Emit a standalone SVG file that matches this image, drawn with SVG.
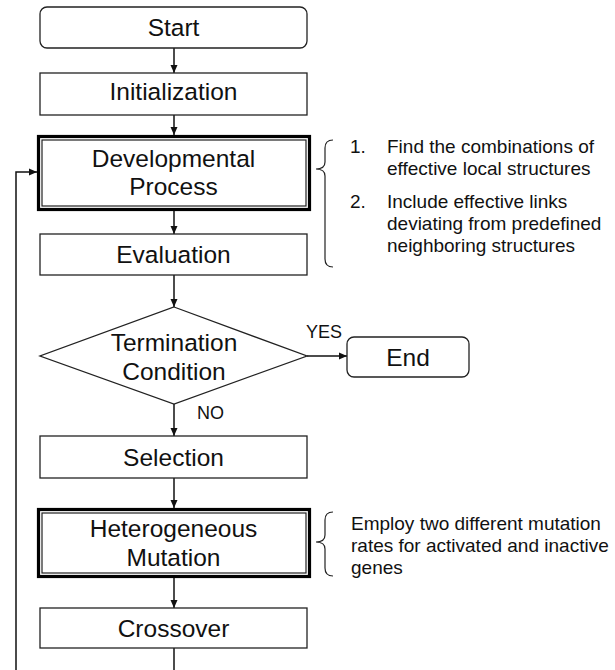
<svg xmlns="http://www.w3.org/2000/svg" width="615" height="670" viewBox="0 0 615 670">
<style>
  .box { fill: #fff; stroke: #222; stroke-width: 1.3; }
  .thick { fill: #fff; stroke: #000; stroke-width: 3.2; }
  .thin { fill: none; stroke: #222; stroke-width: 1.2; }
  .lbl { font-family: "Liberation Sans", Arial, sans-serif; font-size: 24.5px; fill: #111; text-anchor: middle; }
  .yn { font-family: "Liberation Sans", Arial, sans-serif; font-size: 18px; fill: #111; }
  .note { font-family: "Liberation Sans", Arial, sans-serif; font-size: 19px; fill: #111; }
  .conn { fill: none; stroke: #111; stroke-width: 1.5; }
  .brace { fill: none; stroke: #222; stroke-width: 1.2; }
</style>
<defs>
  <marker id="arr" markerWidth="8" markerHeight="8" refX="8" refY="4" orient="auto" markerUnits="userSpaceOnUse">
    <path d="M0,0.5 L8,4 L0,7.5 Z" fill="#111"/>
  </marker>
</defs>
<rect width="615" height="670" fill="#fff"/>

<g id="connectors">
  <line class="conn" x1="174" y1="48" x2="174" y2="73" marker-end="url(#arr)"/>
  <line class="conn" x1="174" y1="115" x2="174" y2="135" marker-end="url(#arr)"/>
  <line class="conn" x1="174" y1="211" x2="174" y2="234" marker-end="url(#arr)"/>
  <line class="conn" x1="174" y1="275" x2="174" y2="307" marker-end="url(#arr)"/>
  <line class="conn" x1="174" y1="404" x2="174" y2="436" marker-end="url(#arr)"/>
  <line class="conn" x1="174" y1="478" x2="174" y2="508" marker-end="url(#arr)"/>
  <line class="conn" x1="174" y1="578" x2="174" y2="608" marker-end="url(#arr)"/>
  <line class="conn" x1="174" y1="648" x2="174" y2="670"/>
  <polyline class="conn" points="16,670 16,172 37,172" marker-end="url(#arr)"/>
  <line class="conn" x1="307" y1="356" x2="347" y2="356" marker-end="url(#arr)"/>
  <text class="yn" x="306" y="338">YES</text>
  <text class="yn" x="197" y="419">NO</text>
</g>

<g id="start">
  <rect class="box" x="40" y="7" width="267" height="41" rx="7"/>
  <text class="lbl" x="173.5" y="36">Start</text>
</g>
<g id="initialization">
  <rect class="box" x="40" y="73" width="267" height="42"/>
  <text class="lbl" x="173.5" y="100">Initialization</text>
</g>
<g id="developmental">
  <rect class="thick" x="38.5" y="136.5" width="271" height="73"/>
  <rect class="thin" x="42" y="140" width="264" height="66"/>
  <text class="lbl" x="173.5" y="167">Developmental</text>
  <text class="lbl" x="173.5" y="195">Process</text>
</g>
<g id="evaluation">
  <rect class="box" x="40" y="234" width="267" height="41"/>
  <text class="lbl" x="173.5" y="263">Evaluation</text>
</g>
<g id="termination">
  <polygon class="box" points="174,307 307,356 174,404 40,356"/>
  <text class="lbl" x="174" y="351">Termination</text>
  <text class="lbl" x="174" y="380">Condition</text>
</g>
<g id="end">
  <rect class="box" x="347" y="337" width="122" height="40" rx="7"/>
  <text class="lbl" x="408" y="366">End</text>
</g>
<g id="selection">
  <rect class="box" x="40" y="436" width="267" height="42"/>
  <text class="lbl" x="173.5" y="466">Selection</text>
</g>
<g id="mutation">
  <rect class="thick" x="38.5" y="509.5" width="271" height="67"/>
  <rect class="thin" x="42" y="513" width="264" height="60"/>
  <text class="lbl" x="173.5" y="537">Heterogeneous</text>
  <text class="lbl" x="173.5" y="566">Mutation</text>
</g>
<g id="crossover">
  <rect class="box" x="40" y="608" width="267" height="40"/>
  <text class="lbl" x="173.5" y="637">Crossover</text>
</g>

<g id="note1">
  <path class="brace" d="M333,140 Q325,140 325,148 L325,162 Q325,169 316,169 Q325,169 325,176 L325,259 Q325,267 333,267"/>
  <text class="note" x="350" y="153">1.</text>
  <text class="note" x="387" y="153">Find the combinations of</text>
  <text class="note" x="387" y="175">effective local structures</text>
  <text class="note" x="350" y="208">2.</text>
  <text class="note" x="387" y="208">Include effective links</text>
  <text class="note" x="387" y="230">deviating from predefined</text>
  <text class="note" x="387" y="252">neighboring structures</text>
</g>
<g id="note2">
  <path class="brace" d="M333,512 Q325,512 325,520 L325,535 Q325,542 316,542 Q325,542 325,549 L325,568 Q325,576 333,576"/>
  <text class="note" x="351" y="530">Employ two different mutation</text>
  <text class="note" x="351" y="552">rates for activated and inactive</text>
  <text class="note" x="351" y="574">genes</text>
</g>
</svg>
